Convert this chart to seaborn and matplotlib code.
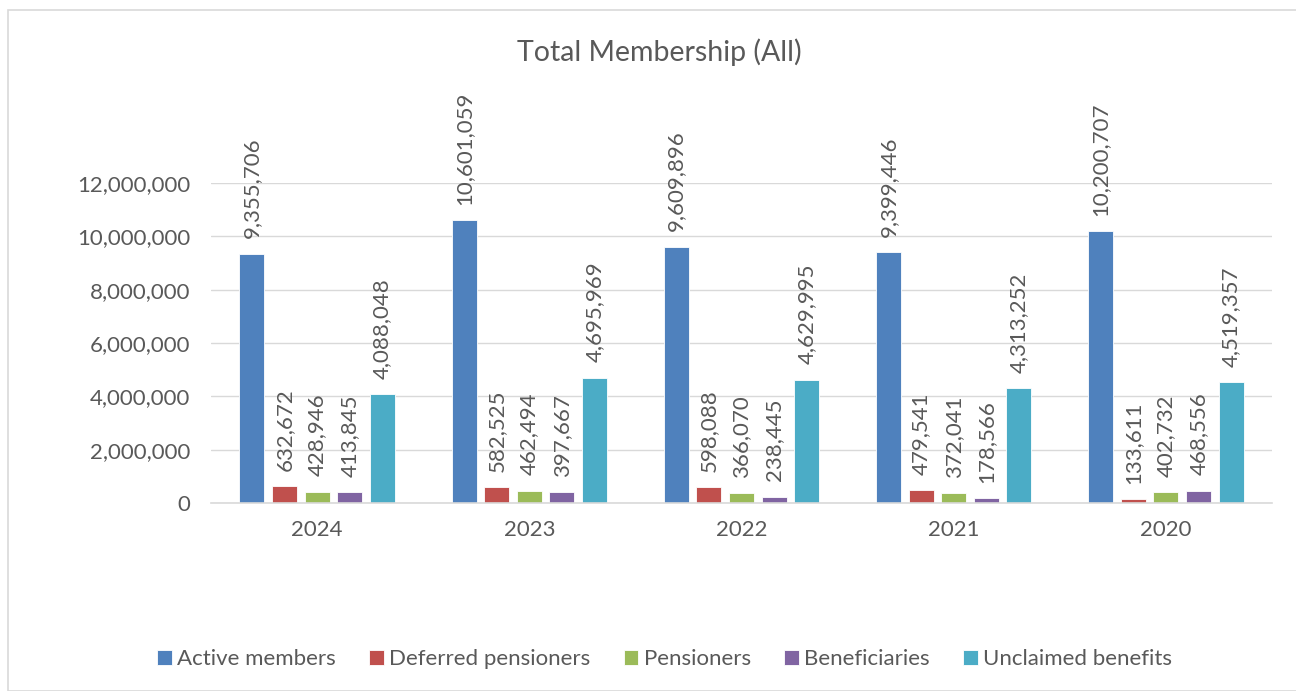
import pandas as pd
import seaborn as sns
import matplotlib.pyplot as plt
from matplotlib.patches import Rectangle
from matplotlib.ticker import FuncFormatter

years = ['2024', '2023', '2022', '2021', '2020']
categories = ['Active members', 'Deferred pensioners', 'Pensioners',
              'Beneficiaries', 'Unclaimed benefits']
active = [9355706, 10601059, 9609896, 9399446, 10200707]
deferred = [632672, 582525, 598088, 479541, 133611]
pensioners = [428946, 462494, 366070, 372041, 402732]
beneficiaries = [413845, 397667, 238445, 178566, 468556]
unclaimed = [4088048, 4695969, 4629995, 4313252, 4519357]
colors = ['#4F81BD', '#C0504D', '#9BBB59', '#8064A2', '#4BACC6']
text_col = '#595959'

# long table for seaborn
rows = []
for cat, vals in zip(categories, [active, deferred, pensioners, beneficiaries, unclaimed]):
    for y, v in zip(years, vals):
        rows.append({'Year': y, 'Series': cat, 'Value': v})
df = pd.DataFrame(rows)

sns.set_style('white')
plt.rcParams['font.family'] = ['Lato', 'DejaVu Sans']

fig = plt.figure(figsize=(12.96, 6.91), dpi=100)
ax = fig.add_axes([211 / 1296, 1 - 503 / 691, 1061 / 1296, 320 / 691])

sns.barplot(data=df, x='Year', y='Value', hue='Series', order=years,
            hue_order=categories, palette=colors, saturation=1, width=0.768,
            gap=0.233, edgecolor='white', linewidth=0.6, ax=ax)

for cont in ax.containers:
    for bar in cont:
        h = bar.get_height()
        ax.annotate(f'{int(h):,}', (bar.get_x() + bar.get_width() / 2, h),
                    xytext=(0, 11), textcoords='offset points', rotation=90,
                    ha='center', va='bottom', fontsize=16, color=text_col,
                    annotation_clip=False)

ax.set_ylim(0, 12000000)
ax.set_xlim(-0.5, 4.5)
ax.set_yticks(range(0, 12000001, 2000000))
ax.yaxis.set_major_formatter(FuncFormatter(lambda v, p: f'{int(v):,}'))
ax.grid(axis='y', color='#D9D9D9', linewidth=1)
ax.set_axisbelow(True)
sns.despine(ax=ax, left=True, top=True, right=True)
ax.spines['bottom'].set_color('#D9D9D9')
ax.spines['bottom'].set_linewidth(1.2)
ax.tick_params(axis='both', length=0, labelsize=16, labelcolor=text_col)
ax.tick_params(axis='y', pad=15)
ax.tick_params(axis='x', pad=12)
ax.set_xlabel('')
ax.set_ylabel('')

fig.text(0.509, 0.925, 'Total Membership (All)', ha='center', va='center',
         fontsize=20.5, color=text_col)

handles, labels = ax.get_legend_handles_labels()
ax.legend(handles, labels, loc='center', bbox_to_anchor=(0.513, 0.046),
          bbox_transform=fig.transFigure, ncol=5, frameon=False,
          fontsize=16, labelcolor=text_col, handlelength=0.65,
          handleheight=0.65, handletextpad=0.25, columnspacing=1.5)

fig.patches.append(Rectangle((0.006, 0.0), 1.2, 0.986, transform=fig.transFigure,
                             fill=False, edgecolor='#D9D9D9', linewidth=1.2))

fig.savefig('out.png', dpi=100, facecolor='white')
